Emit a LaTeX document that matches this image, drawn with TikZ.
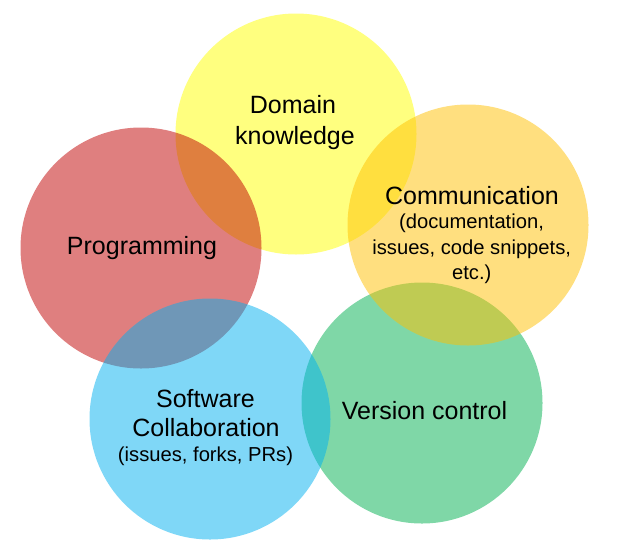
\documentclass[tikz,border=0pt]{standalone}
\usepackage{fontspec}
\setmainfont{Liberation Sans}
\definecolor{cyellow}{HTML}{FFFF00}
\definecolor{cred}{HTML}{C00000}
\definecolor{cblue}{HTML}{00B0F0}
\definecolor{cgreen}{HTML}{00B050}
\definecolor{corange}{HTML}{FFC000}
\tikzset{
  blob/.style={circle, draw=none, fill opacity=0.5, minimum size=241pt, inner sep=0pt},
  big/.style={anchor=base, inner sep=0pt, font=\fontsize{25pt}{30pt}\selectfont},
  small/.style={anchor=base, inner sep=0pt, font=\fontsize{20.2pt}{25pt}\selectfont},
}
\begin{document}
\begin{tikzpicture}[x=1pt,y=-1pt]
\useasboundingbox (0,0) rectangle (628,557);
\node[blob, fill=cyellow] (yellow) at (296,134) {};
\node[blob, fill=cgreen]  (green)  at (422,403) {};
\node[blob, fill=cred]    (red)    at (141,248) {};
\node[blob, fill=cblue]   (blue)   at (210,419) {};
\node[blob, fill=corange] (orange) at (468,225) {};

\node[big] (dk1) at (293,113.3) {Domain};
\node[big] (dk2) at (295,144.3) {knowledge};

\node[big]   (cm1) at (472,204.3) {Communication};
\node[small] (cm2) at (471.5,228.3) {(documentation,};
\node[small] (cm3) at (471.7,254) {issues, code snippets,};
\node[small] (cm4) at (471.7,279) {etc.)};

\node[big] (pg) at (142,254.3) {Programming};

\node[big]   (sc1) at (205.5,407.3) {Software};
\node[big]   (sc2) at (206,436.7) {Collaboration};
\node[small] (sc3) at (205.5,461.7) {(issues, forks, PRs)};

\node[big] (vc) at (424.5,419.3) {Version control};
\end{tikzpicture}
\end{document}
